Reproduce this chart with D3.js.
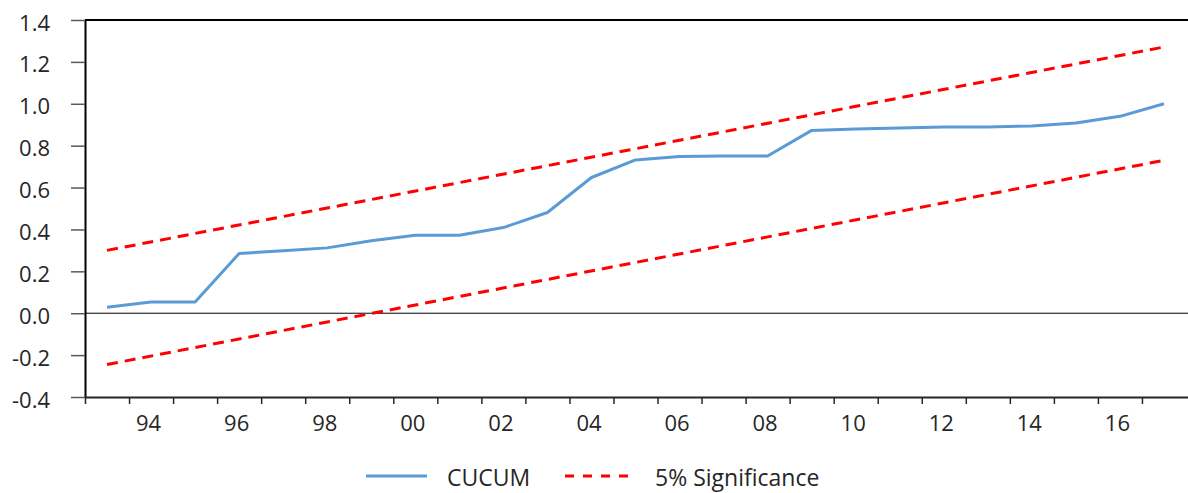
<!DOCTYPE html>
<html>
<head>
<meta charset="utf-8">
<script src="https://cdn.jsdelivr.net/npm/d3@7"></script>
<style>
  html, body { margin: 0; padding: 0; background: #fff; }
  svg { display: block; }
  text { font-family: "Open Sans", "Segoe UI", sans-serif; fill: #262626; }
</style>
</head>
<body>
<svg id="chart" width="1188" height="493"></svg>
<script>
// ---- data ----
const years = [1993,1994,1995,1996,1997,1998,1999,2000,2001,2002,2003,2004,2005,2006,2007,2008,2009,2010,2011,2012,2013,2014,2015,2016,2017];
const cucum = [0.029,0.054,0.054,0.285,0.298,0.312,0.346,0.372,0.372,0.409,0.481,0.648,0.732,0.748,0.751,0.751,0.873,0.879,0.884,0.889,0.889,0.894,0.908,0.940,1.000];
const sigYears = [1993, 2017];
const sigUpper = [0.300, 1.271];
const sigLower = [-0.245, 0.730];
const yTicks = [-0.4,-0.2,0.0,0.2,0.4,0.6,0.8,1.0,1.2,1.4];
const xLabelYears = [1994,1996,1998,2000,2002,2004,2006,2008,2010,2012,2014,2016];
const xLabels = ["94","96","98","00","02","04","06","08","10","12","14","16"];
const seriesNames = ["CUCUM", "5% Significance"];

// ---- layout ----
const L = 85, R = 1186, T = 20, B = 397;
const svg = d3.select("#chart");

const x = d3.scaleLinear().domain([1993, 2018]).range([L, R]);
const y = d3.scaleLinear().domain([-0.4, 1.4]).range([B, T]);
const px = yr => x(yr + 0.5);

// top border
svg.append("line").attr("x1", L).attr("x2", 1188).attr("y1", T).attr("y2", T)
  .attr("stroke", "#000").attr("stroke-width", 2);

// y axis
const yAxis = svg.append("g").attr("transform", `translate(${L},0)`)
  .call(d3.axisLeft(y).tickValues(yTicks).tickFormat(d => d.toFixed(1))
    .tickSize(14).tickSizeOuter(0).tickPadding(21));
yAxis.select(".domain").attr("stroke", "#000").attr("stroke-width", 2);
yAxis.selectAll(".tick line").attr("stroke", "#595959").attr("stroke-width", 1.5);
yAxis.selectAll(".tick text").style("font-size", "22px").attr("fill", "#262626")
  .attr("y", 3);

// zero line
svg.append("line").attr("x1", L).attr("x2", 1188).attr("y1", y(0)).attr("y2", y(0))
  .attr("stroke", "#000").attr("stroke-width", 1);

// x axis: tick marks at year boundaries
const xTickAxis = svg.append("g").attr("transform", `translate(0,${B})`)
  .call(d3.axisBottom(x).tickValues(years).tickFormat("").tickSize(7).tickSizeOuter(0));
xTickAxis.select(".domain").attr("stroke", "#262626").attr("stroke-width", 1.8)
  .attr("d", `M${L},0.5H1188`);
xTickAxis.selectAll(".tick line").attr("stroke", "#262626").attr("stroke-width", 1.5);

// x labels centred in year bands
const xLabAxis = svg.append("g").attr("transform", `translate(-3,${B})`)
  .call(d3.axisBottom(d3.scaleLinear().domain([1993, 2018]).range([L, R]))
    .tickValues(xLabelYears.map(v => v + 0.5))
    .tickFormat((d, i) => xLabels[i]).tickSize(0).tickPadding(18));
xLabAxis.select(".domain").remove();
xLabAxis.selectAll(".tick text").style("font-size", "22px").attr("fill", "#262626");

// significance lines
const sigLine = d3.line().x(d => px(d[0])).y(d => y(d[1]));
[sigUpper, sigLower].forEach(arr => {
  svg.append("path")
    .datum(sigYears.map((yr, i) => [yr, arr[i]]))
    .attr("d", sigLine)
    .attr("fill", "none").attr("stroke", "#FF0000").attr("stroke-width", 3)
    .attr("stroke-dasharray", "11,7");
});

// CUCUM line
svg.append("path")
  .datum(years.map((yr, i) => [yr, cucum[i]]))
  .attr("d", sigLine)
  .attr("fill", "none").attr("stroke", "#5B9BD5").attr("stroke-width", 3)
  .attr("stroke-linejoin", "round");

// legend
const lg = svg.append("g");
const ly = 476;
lg.append("line").attr("x1", 366).attr("x2", 427).attr("y1", ly).attr("y2", ly)
  .attr("stroke", "#5B9BD5").attr("stroke-width", 3);
lg.append("text").attr("x", 447).attr("y", 486)
  .style("font-size", "23px").text(seriesNames[0]);
lg.append("line").attr("x1", 565).attr("x2", 628).attr("y1", ly).attr("y2", ly)
  .attr("stroke", "#FF0000").attr("stroke-width", 3).attr("stroke-dasharray", "9,9");
lg.append("text").attr("x", 655).attr("y", 486)
  .style("font-size", "23px").text(seriesNames[1]);
</script>
</body>
</html>
